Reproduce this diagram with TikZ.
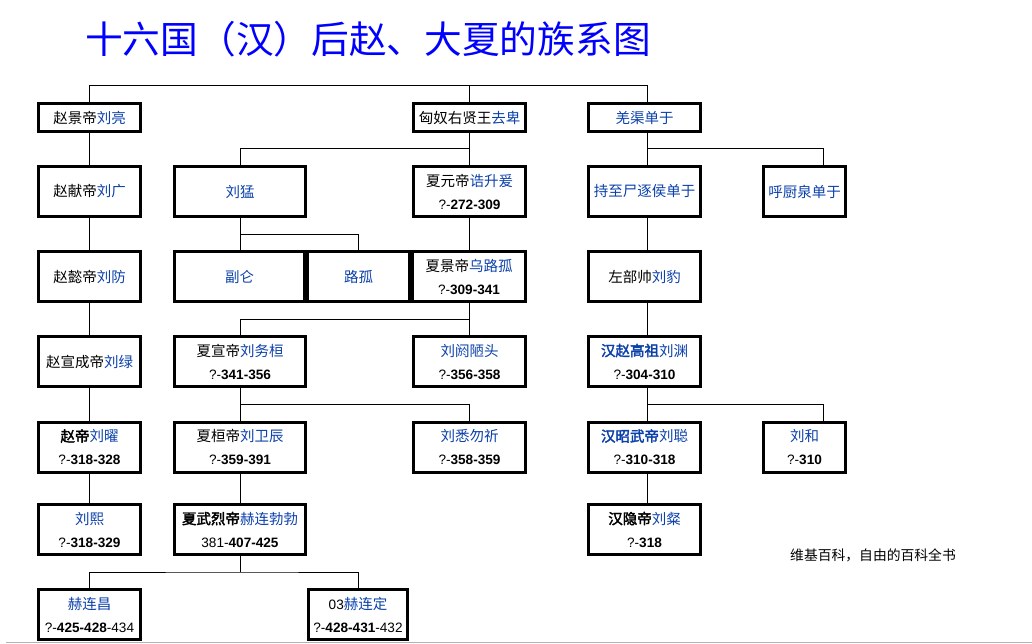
\documentclass[tikz,border=0pt]{standalone}
\usepackage{fontspec}
\setmainfont{Liberation Sans}
\newfontfamily\cjk[AutoFakeBold=2.5]{Noto Sans CJK SC}
\usetikzlibrary{calc,positioning}
\definecolor{nameblue}{RGB}{11,64,170}
\definecolor{titleblue}{RGB}{0,0,255}
\newcommand\nm[1]{\textcolor{nameblue}{#1}}
\newcommand\yrs[1]{{\rmfamily\fontsize{13.6}{23}\selectfont #1}}
\tikzset{fam/.style={draw, rectangle, line width=3pt, inner sep=0pt, align=center, font=\cjk\fontsize{14.5}{23}\selectfont}}
\tikzstyle{wA}=[fam, minimum width=102pt]
\tikzstyle{wB}=[fam, minimum width=131pt]
\tikzstyle{wC}=[fam, minimum width=112pt]
\tikzstyle{wE}=[fam, minimum width=82pt]
\tikzstyle{h1}=[minimum height=28pt]
\tikzstyle{h2}=[minimum height=50pt]
\tikzstyle{ln}=[line width=1pt]

\begin{document}
\begin{tikzpicture}[x=1pt, y=-1pt]
\useasboundingbox (0,0) rectangle (1032,644);
\node[anchor=base west, inner sep=0pt, text=titleblue, font=\cjk\fontsize{37.7}{40}\selectfont] (title) at (85,54) {十六国（汉）后赵、大夏的族系图};

\node[wA,h1] (liang) at (89.5,117.5) {赵景帝\nm{刘亮}};
\node[wA,h2] (guang) at (89.5,191.5) {赵献帝\nm{刘广}};
\node[wA,h2] (fang) at (89.5,276.5) {赵懿帝\nm{刘防}};
\node[wA,h2] (lv) at (89.5,361.5) {赵宣成帝\nm{刘绿}};
\node[wA,h2] (yao) at (89.5,447) {\textbf{赵帝}\nm{刘曜}\\\yrs{?-\textbf{318-328}}};
\node[wA,h2] (xi) at (89.5,529.5) {\nm{刘熙}\\\yrs{?-\textbf{318-329}}};
\node[wA,h2] (chang) at (89.5,614.5) {\nm{赫连昌}\\\yrs{?-\textbf{425-428}-434}};

\node[wB,h2] (liumeng) at (240,191.5) {\nm{刘猛}};
\node[fam,h2,minimum width=130pt] (fulun) at (239.5,276.5) {\nm{副仑}};
\node[wA,h2] (lugu) at (358.5,276.5) {\nm{路孤}};
\node[wB,h2] (wuhuan) at (240,361.5) {夏宣帝\nm{刘务桓}\\\yrs{?-\textbf{341-356}}};
\node[wB,h2] (weichen) at (240,447) {夏桓帝\nm{刘卫辰}\\\yrs{?-\textbf{359-391}}};
\node[wB,h2] (bobo) at (240,529.5) {\textbf{夏武烈帝}\nm{赫连勃勃}\\\yrs{381-\textbf{407-425}}};
\node[fam,h2,minimum width=99pt] (ding) at (358,614.5) {\yrs{03}\nm{赫连定}\\\yrs{?-\textbf{428-431}-432}};

\node[wC,h1] (qubei) at (469.5,117.5) {匈奴右贤王\nm{去卑}};
\node[wC,h2] (gaosheng) at (469.5,191.5) {夏元帝\nm{诰升爰}\\\yrs{?-\textbf{272-309}}};
\node[fam,h2,minimum width=113pt] (wulugu) at (469,276.5) {夏景帝\nm{乌路孤}\\\yrs{?-\textbf{309-341}}};
\node[wC,h2] (eloutou) at (469.5,361.5) {\nm{刘阏陋头}\\\yrs{?-\textbf{356-358}}};
\node[wC,h2] (xiwuqi) at (469.5,447) {\nm{刘悉勿祈}\\\yrs{?-\textbf{358-359}}};

\node[wC,h1] (qiangqu) at (644.5,117.5) {\nm{羌渠单于}};
\node[wC,h2] (chizhi) at (644.5,191.5) {\nm{持至尸逐侯单于}};
\node[wC,h2] (liubao) at (644.5,276.5) {左部帅\nm{刘豹}};
\node[wC,h2] (liuyuan) at (644.5,361.5) {\nm{\textbf{汉赵高祖}刘渊}\\\yrs{?-\textbf{304-310}}};
\node[wC,h2] (liucong) at (644.5,447) {\nm{\textbf{汉昭武帝}刘聪}\\\yrs{?-\textbf{310-318}}};
\node[wC,h2] (liucan) at (644.5,529.5) {\textbf{汉隐帝}\nm{刘粲}\\\yrs{?-\textbf{318}}};

\node[wE,h2] (huchu) at (804.5,191.5) {\nm{呼厨泉单于}};
\node[wE,h2] (liuhe) at (804.5,447) {\nm{刘和}\\\yrs{?-\textbf{310}}};

\node[anchor=west, inner sep=0pt, font=\cjk\fontsize{13.8}{16}\selectfont] (wiki) at (790,555) {维基百科，自由的百科全书};

\coordinate (top) at (0,86);
\coordinate (dx) at (647,0);
\coordinate (ex) at (823,0);

\draw[ln] (liang.north) |- (top -| dx) -- (qiangqu.north -| dx);
\draw[ln] (qubei.north) -- (qubei.north |- top);
\draw[ln] (liang.south) -- (guang.north);
\draw[ln] (guang.south) -- (fang.north);
\draw[ln] (fang.south) -- (lv.north);
\draw[ln] (lv.south) -- (yao.north);
\draw[ln] (yao.south) -- (xi.north);

\draw[ln] (qubei.south) -- coordinate[midway] (m1) (gaosheng.north);
\draw[ln] (m1) -| (liumeng.north);
\draw[ln] (liumeng.south) -- coordinate[midway] (m2) (liumeng.south |- fulun.north);
\draw[ln] (m2) -| (lugu.north);
\draw[ln] (gaosheng.south) -- (gaosheng.south |- wulugu.north);
\draw[ln] (wulugu.south) -- coordinate[midway] (m3) (wulugu.south |- eloutou.north);
\draw[ln] (m3) -| (wuhuan.north);
\draw[ln] (wuhuan.south) -- coordinate[midway] (m4) (wuhuan.south |- weichen.north);
\draw[ln] (m4) -| (xiwuqi.north);
\draw[ln] (weichen.south) -- (bobo.north);
\coordinate (m5) at ($(bobo.south)!0.5!(bobo.south |- chang.north)$);
\draw[ln] (bobo.south) -- (m5);
\draw[ln] (chang.north) |- (m5) -| (ding.north);

\draw[ln] (qiangqu.south -| dx) -- coordinate[midway] (m6) (chizhi.north -| dx);
\draw[ln] (m6) -| (huchu.north -| ex);
\draw[ln] (chizhi.south -| dx) -- (liubao.north -| dx);
\draw[ln] (liubao.south -| dx) -- (liuyuan.north -| dx);
\draw[ln] (liuyuan.south -| dx) -- coordinate[midway] (m7) (liucong.north -| dx);
\draw[ln] (m7) -| (liuhe.north -| ex);
\draw[ln] (liucong.south -| dx) -- (liucan.north -| dx);

\draw[gray!60, line width=1.5pt] (6,642.5) -- (1032,642.5);
\end{tikzpicture}
\end{document}
